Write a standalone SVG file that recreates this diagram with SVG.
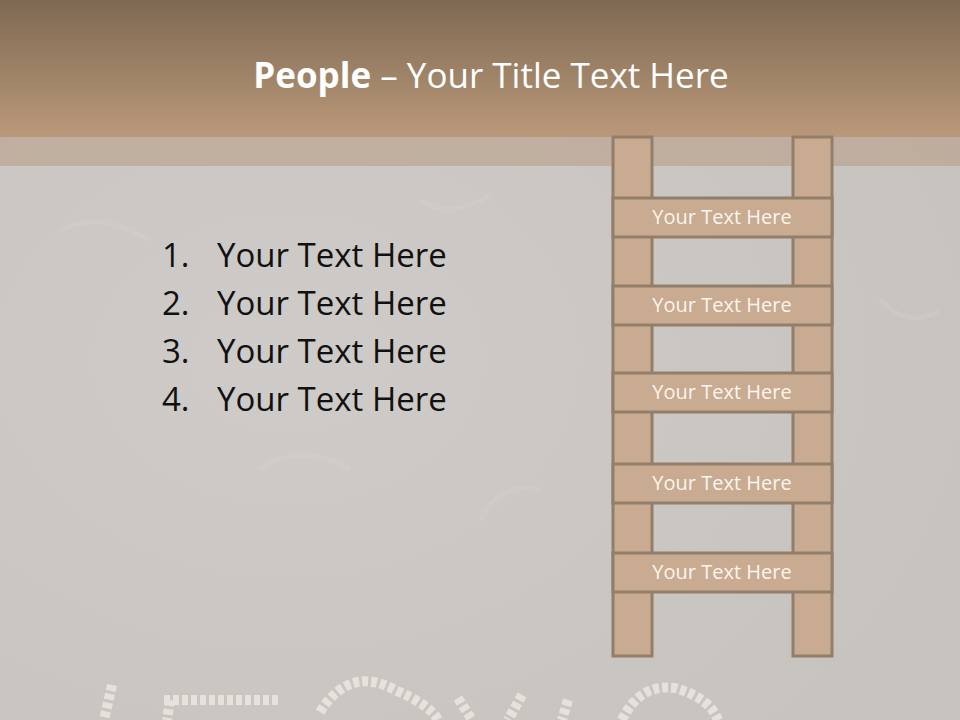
<svg xmlns="http://www.w3.org/2000/svg" width="960" height="720" viewBox="0 0 960 720">
  <defs>
    <linearGradient id="hdr" x1="0" y1="0" x2="0" y2="1">
      <stop offset="0" stop-color="#7e6952"/>
      <stop offset="1" stop-color="#ba997a"/>
    </linearGradient>
    <radialGradient id="bgshade" cx="0.3" cy="0.5" r="0.8">
      <stop offset="0" stop-color="#cfcbc8"/>
      <stop offset="1" stop-color="#c6c2be"/>
    </radialGradient>
    <style>
      .rail { fill: #c8ab91; stroke: #927e6a; stroke-width: 3; }
      .rung { fill: #c8ab91; stroke: #927e6a; stroke-width: 3; }
      .rtxt { font-family: "Open Sans", "Liberation Sans", sans-serif; font-size: 20px; fill: #fbf5ee; text-anchor: middle; }
      .item { font-family: "Open Sans", "Liberation Sans", sans-serif; font-size: 33px; fill: #111111; }
      .chalk { fill: none; stroke: #ece9e2; stroke-width: 10; stroke-dasharray: 6 3; opacity: 0.8; }
    </style>
  </defs>

  <!-- background -->
  <rect x="0" y="0" width="960" height="720" fill="url(#bgshade)"/>
  <g opacity="0.18" fill="none" stroke="#dedbd7" stroke-width="5">
    <path d="M60 230 q40 -20 90 10"/>
    <path d="M420 200 q30 20 70 -5"/>
    <path d="M260 470 q40 -30 90 0"/>
    <path d="M480 520 q20 -40 60 -30"/>
    <path d="M880 300 q30 30 60 10"/>
  </g>
  <!-- bottom chalk letters -->
  <g class="chalk-letters">
    <path class="chalk" d="M112 685 L104 720"/>
    <path class="chalk" d="M164 700 L278 700 M170 700 L167 720"/>
    <path class="chalk" d="M320 712 Q350 665 395 690 Q430 705 438 720"/>
    <path class="chalk" d="M458 698 L472 720 M522 695 L508 720 M568 700 L562 720"/>
    <path class="chalk" d="M622 720 Q640 683 675 688 Q710 698 718 720"/>
  </g>

  <!-- header -->
  <rect x="0" y="0" width="960" height="137" fill="url(#hdr)"/>
  <rect x="0" y="137" width="960" height="29" fill="#b89c84" opacity="0.55"/>

  <g id="title">
    <text x="491" y="88" text-anchor="middle" font-family="'Open Sans', 'Liberation Sans', sans-serif" font-size="35" fill="#ffffff"><tspan font-weight="bold">People</tspan> – Your Title Text Here</text>
  </g>

  <g id="list">
    <text class="item" x="162" y="267">1.</text><text class="item" x="217" y="267">Your Text Here</text>
    <text class="item" x="162" y="315">2.</text><text class="item" x="217" y="315">Your Text Here</text>
    <text class="item" x="162" y="363">3.</text><text class="item" x="217" y="363">Your Text Here</text>
    <text class="item" x="162" y="411">4.</text><text class="item" x="217" y="411">Your Text Here</text>
  </g>

  <!-- ladder -->
  <g id="ladder-rails">
    <rect class="rail" x="613" y="137" width="39" height="519"/>
    <rect class="rail" x="793" y="137" width="39" height="519"/>
  </g>
  <g id="rung1">
    <rect class="rung" x="613" y="198" width="219" height="39"/>
    <text class="rtxt" x="722" y="224">Your Text Here</text>
  </g>
  <g id="rung2">
    <rect class="rung" x="613" y="286" width="219" height="39"/>
    <text class="rtxt" x="722" y="312">Your Text Here</text>
  </g>
  <g id="rung3">
    <rect class="rung" x="613" y="373" width="219" height="39"/>
    <text class="rtxt" x="722" y="399">Your Text Here</text>
  </g>
  <g id="rung4">
    <rect class="rung" x="613" y="464" width="219" height="39"/>
    <text class="rtxt" x="722" y="490">Your Text Here</text>
  </g>
  <g id="rung5">
    <rect class="rung" x="613" y="553" width="219" height="39"/>
    <text class="rtxt" x="722" y="579">Your Text Here</text>
  </g>
</svg>
